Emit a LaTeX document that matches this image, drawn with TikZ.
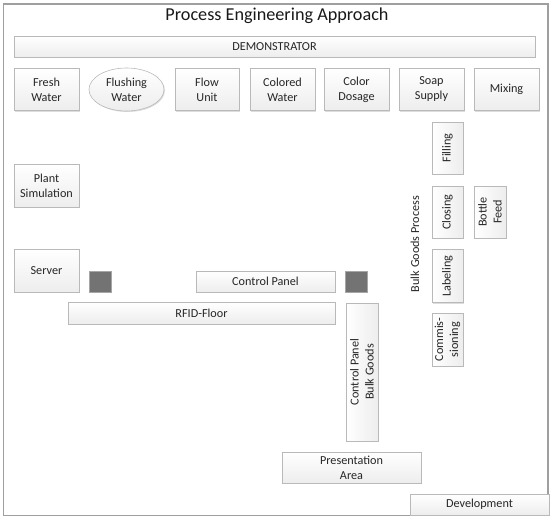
\documentclass[tikz,border=0pt]{standalone}
\usepackage{fontspec}
\setmainfont{Carlito}
\usetikzlibrary{shapes.geometric,shadows}
\tikzset{
  box/.style={draw=gray!55, line width=0.6pt, top color=white, bottom color=gray!14,
    align=center, inner sep=1pt, font=\fontsize{12.2}{15}\selectfont, text=black!85,
    drop shadow={shadow xshift=1pt, shadow yshift=-1pt, fill=gray!45, opacity=0.6}},
  vbox/.style={box, rotate=90, left color=white, right color=gray!14},
  ell/.style={box, ellipse},
  dark/.style={draw=gray!70, fill=black!55, line width=0.6pt},
  frame/.style={draw=gray!75, line width=1.3pt},
}
\begin{document}
\begin{tikzpicture}[x=1pt,y=-1pt]
\useasboundingbox (0,0) rectangle (553,520);
\draw[frame] (3.5,4) rectangle (548,515.5);
\node[font=\fontsize{18.2}{21}\selectfont, text=black!90] (title) at (277,16) {Process Engineering Approach};
\node[box, minimum width=521, minimum height=21] (demo) at (274.5,46.5) {DEMONSTRATOR};
\node[box, minimum width=65, minimum height=42] (fresh) at (46.5,89.5) {Fresh\\Water};
\node[ell, minimum width=75, minimum height=43] (flush) at (126.5,89.5) {Flushing\\Water};
\node[box, minimum width=64, minimum height=42] (flow) at (207,89.5) {Flow\\Unit};
\node[box, minimum width=65, minimum height=42] (colored) at (282.5,89.5) {Colored\\Water};
\node[box, minimum width=65, minimum height=42] (dosage) at (356.5,89.5) {Color\\Dosage};
\node[box, minimum width=65, minimum height=42] (soap) at (431.5,89.5) {Soap\\Supply};
\node[box, minimum width=65, minimum height=42] (mixing) at (506.5,89.5) {Mixing};
\node[vbox, minimum width=52, minimum height=31] (filling) at (447.5,148) {Filling};
\node[vbox, minimum width=52, minimum height=31] (closing) at (447.5,212) {Closing};
\node[vbox, minimum width=52, minimum height=32] (bottle) at (490,212) {Bottle\\Feed};
\node[vbox, minimum width=53, minimum height=31] (labeling) at (447.5,276) {Labeling};
\node[vbox, minimum width=53, minimum height=31] (commis) at (447.5,339.5) {Commis-\\sioning};
\node[rotate=90, font=\fontsize{12.2}{15}\selectfont, text=black!85] (bulk) at (415,244) {Bulk Goods Process};
\node[box, minimum width=65, minimum height=43] (plant) at (46.5,185.5) {Plant\\Simulation};
\node[box, minimum width=65, minimum height=43] (server) at (46.5,270.5) {Server};
\node[dark, minimum width=22, minimum height=21, inner sep=0pt] (sq1) at (100,281.5) {};
\node[dark, minimum width=22, minimum height=21, inner sep=0pt] (sq2) at (356.5,281.5) {};
\node[box, minimum width=139, minimum height=21] (cpanel) at (265.5,281.5) {Control Panel};
\node[box, minimum width=267, minimum height=22] (rfid) at (201.5,313) {RFID-Floor};
\node[vbox, minimum width=138, minimum height=32] (cpbg) at (362,372) {Control Panel\\Bulk Goods};
\node[box, minimum width=139, minimum height=31] (pres) at (351.5,467.5) {Presentation\\Area};
\node[box, minimum width=139, minimum height=21] (dev) at (479.5,504.5) {Development};
\end{tikzpicture}
\end{document}
